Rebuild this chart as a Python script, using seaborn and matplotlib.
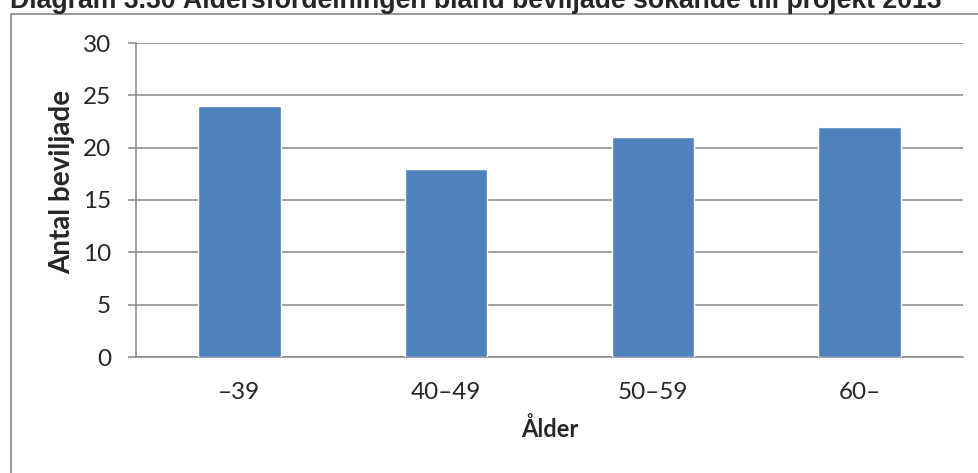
import matplotlib
matplotlib.use('Agg')
import matplotlib.pyplot as plt
import matplotlib.patches as patches
import seaborn as sns
import pandas as pd

# data
title = 'Diagram 3.30 Åldersfördelningen bland beviljade sökande till projekt 2013'
age_groups = ['–39', '40–49', '50–59', '60–']
granted = [24, 18, 21, 22]
y_ticks = [0, 5, 10, 15, 20, 25, 30]

bar_color = '#4F81BD'
grey = '#868686'


def main():
    sns.set_style('white')
    plt.rcParams['font.family'] = ['Lato', 'DejaVu Sans']

    df = pd.DataFrame({'age': age_groups, 'n': granted})

    fig = plt.figure(figsize=(9.79, 4.73), dpi=100)
    ax = fig.add_axes([136 / 979, 1 - 357 / 473, (963 - 136) / 979, (357 - 43) / 473])

    sns.barplot(data=df, x='age', y='n', color=bar_color, width=0.4,
                saturation=1, ax=ax, zorder=3)

    ax.set_xlim(-0.5, len(age_groups) - 0.5)
    ax.set_ylim(0, 30)
    ax.set_yticks(y_ticks)
    ax.yaxis.grid(True, color=grey, linewidth=1.1, zorder=0)
    ax.set_axisbelow(True)

    # category boundary ticks on x axis
    ax.set_xticks([i - 0.5 for i in range(len(age_groups) + 1)], minor=True)
    ax.tick_params(axis='x', which='minor', length=6, width=1.1, color=grey, direction='out')
    ax.tick_params(axis='x', which='major', length=0, pad=18, labelsize=17.5)
    ax.tick_params(axis='y', length=6, width=1.1, color=grey, direction='out',
                   pad=12, labelsize=17.5, left=True)

    for side in ['top', 'right']:
        ax.spines[side].set_visible(False)
    for side in ['left', 'bottom']:
        ax.spines[side].set_color(grey)
        ax.spines[side].set_linewidth(1.1)

    ax.set_xlabel('Ålder', fontsize=17, fontweight='bold', labelpad=10)
    ax.set_ylabel('')
    fig.text(62 / 979, 1 - 182 / 473, 'Antal beviljade', fontsize=20, fontweight='bold',
             rotation=90, ha='center', va='center')

    # outer chart frame (runs off the right and bottom edges)
    frame = patches.Rectangle((10.5 / 979, -0.05), 1.1, 1 - 14 / 473 + 0.05,
                              transform=fig.transFigure, fill=False,
                              edgecolor=grey, linewidth=1.2, clip_on=False)
    fig.add_artist(frame)

    # title, partly cut off at the top of the image
    fig.text(10 / 979, 1 - 7.5 / 473, title, fontsize=19.2, fontweight='bold',
             family=['Liberation Sans', 'DejaVu Sans'], va='baseline', ha='left')

    fig.savefig('out.png', dpi=100)


if __name__ == "__main__":
    main()
